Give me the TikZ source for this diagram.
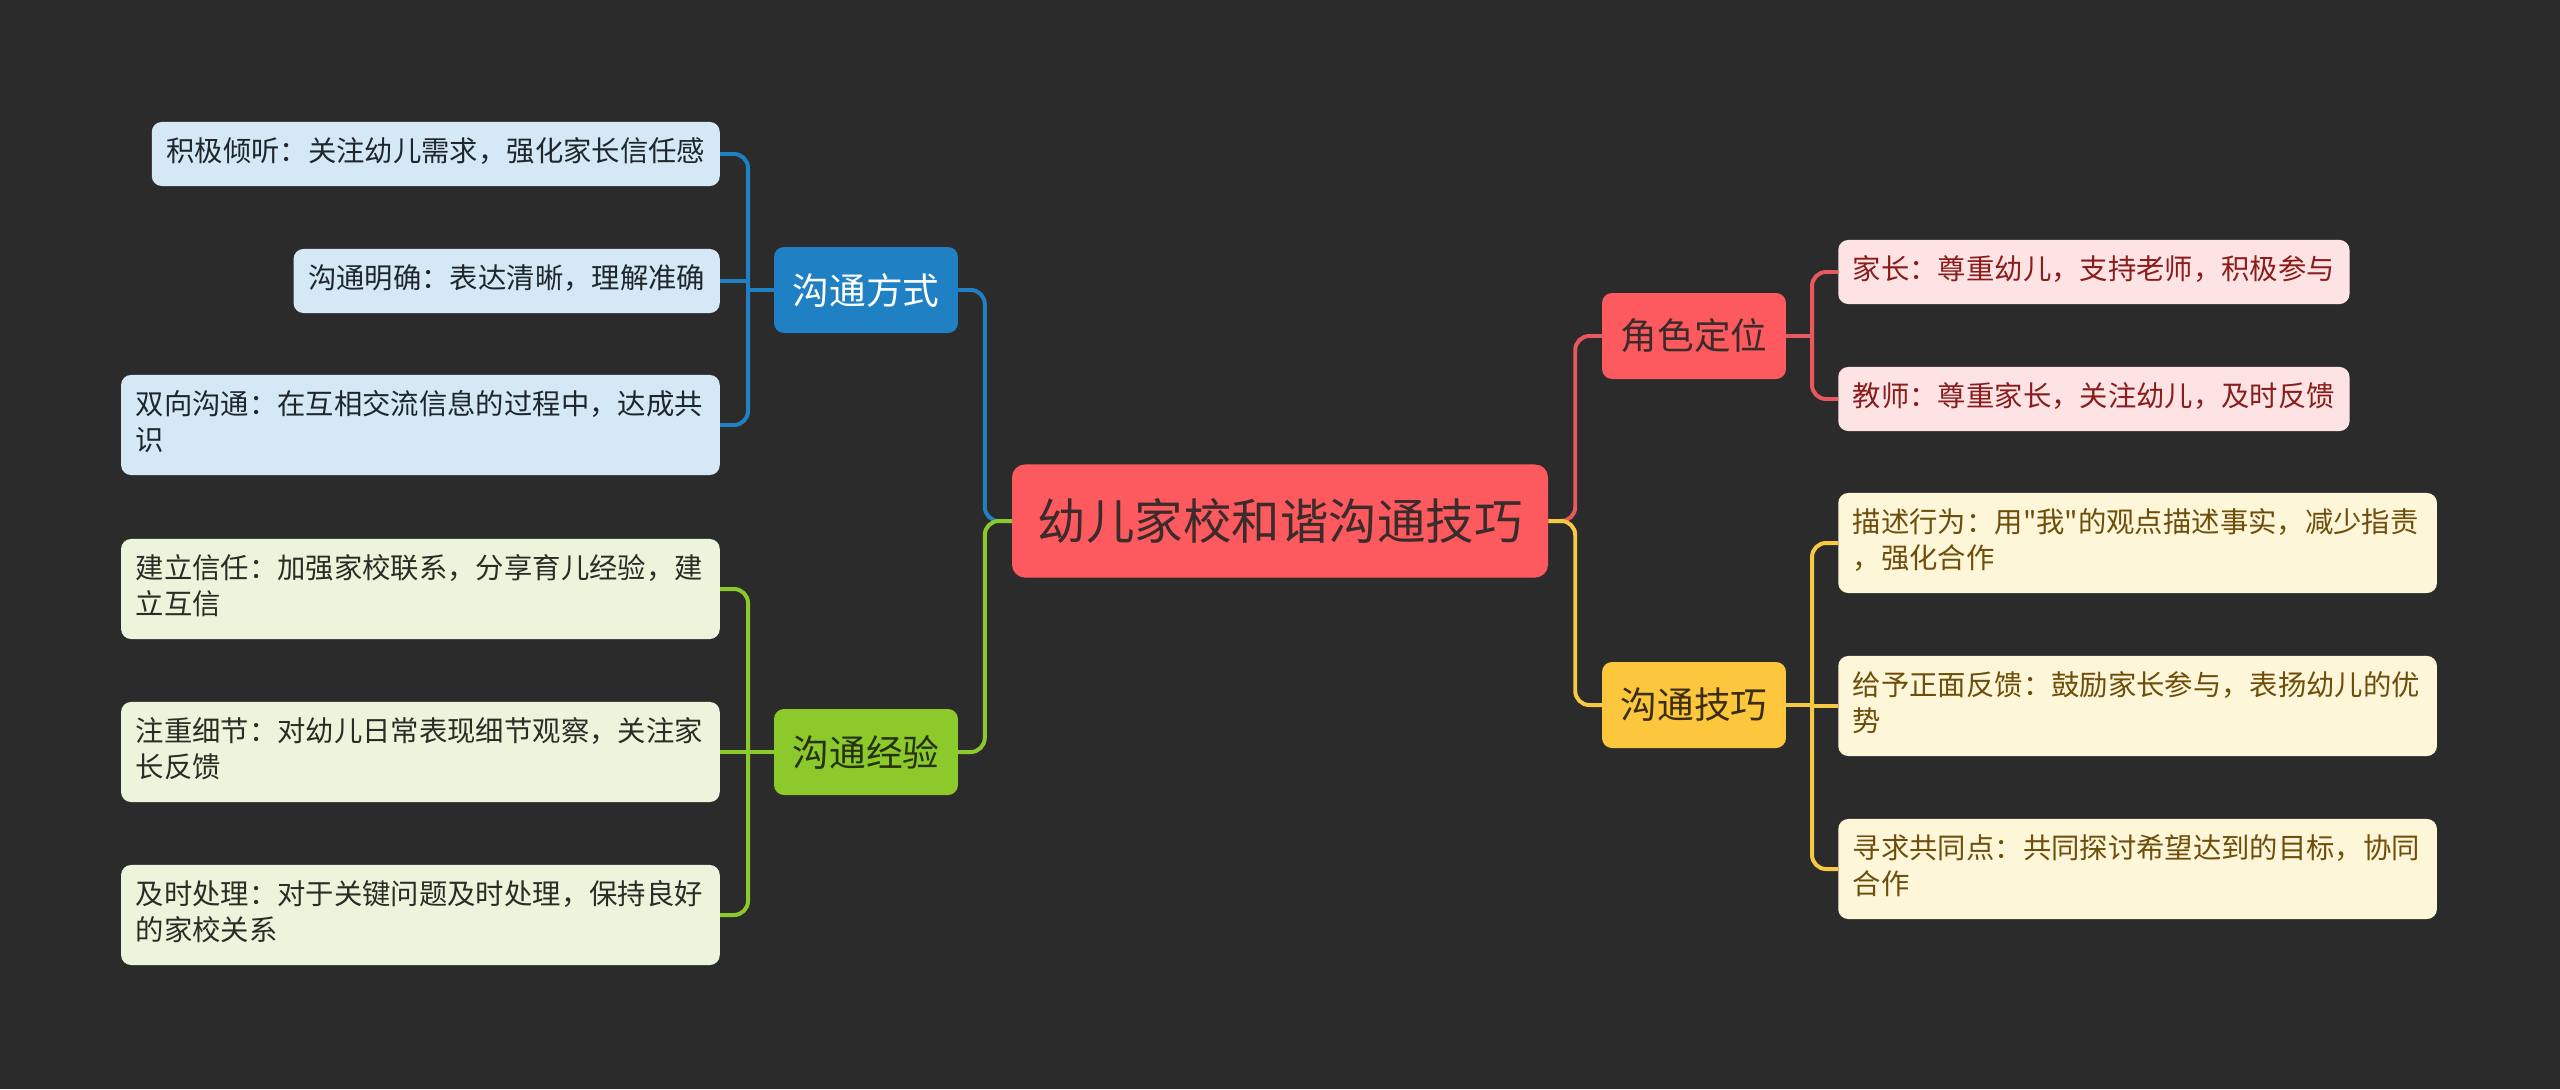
\documentclass[tikz,border=0pt]{standalone}
\usepackage{fontspec}
\newfontfamily\cjk{Noto Sans CJK SC}
\definecolor{bgc}{HTML}{2B2B2B}
\definecolor{rootf}{HTML}{FD5A5F}
\definecolor{roott}{HTML}{3C2B2B}
\definecolor{bluem}{HTML}{1F80C4}
\definecolor{bluel}{HTML}{D4E8F5}
\definecolor{bluet}{HTML}{1F262C}
\definecolor{greenm}{HTML}{8CC92A}
\definecolor{greenl}{HTML}{EAF5DC}
\definecolor{greent}{HTML}{26320F}
\definecolor{greenlt}{HTML}{2A2C26}
\definecolor{redc}{HTML}{E8585C}
\definecolor{redl}{HTML}{FDE3E3}
\definecolor{redt}{HTML}{8A1C1C}
\definecolor{yellowm}{HTML}{FCC73D}
\definecolor{yellowc}{HTML}{F7C843}
\definecolor{yellowl}{HTML}{FDF6D9}
\definecolor{yellowt}{HTML}{3B2E0E}
\definecolor{yellowlt}{HTML}{6E4E0A}
\begin{document}
\begin{tikzpicture}[x=0.03cm,y=-0.03cm,
  conn/.style={line width=3.4pt, rounded corners=12pt},
  leaf/.style={rounded corners=8.5pt, inner xsep=12.5pt, inner ysep=12pt, align=left,
    font=\cjk\fontsize{24.2pt}{30.7pt}\selectfont},
  wide/.style={text width=486pt},
  mid/.style={rounded corners=8.5pt, minimum width=157pt, minimum height=73.4pt, inner sep=0pt,
    font=\cjk\fontsize{31.3pt}{36pt}\selectfont},
  rootbox/.style={rounded corners=11pt, minimum width=457.5pt, minimum height=96.5pt, inner sep=0pt,
    font=\cjk\fontsize{41.4pt}{48pt}\selectfont, fill=rootf, text=roott},
  bleaf/.style={leaf, fill=bluel, text=bluet, anchor=east},
  gleaf/.style={leaf, fill=greenl, text=greenlt, anchor=east},
  rleaf/.style={leaf, fill=redl, text=redt, anchor=west},
  yleaf/.style={leaf, fill=yellowl, text=yellowlt, anchor=west}
]
\fill[bgc] (0,0) rectangle (2560,1089);
\useasboundingbox (0,0) rectangle (2560,1089);

% nodes
\node[rootbox] (root) at (1280,521) {幼儿家校和谐沟通技巧};
\node[mid, fill=bluem, text=white] (bm) at (866,290) {沟通方式};
\node[mid, fill=greenm, text=greent] (gm) at (866,752) {沟通经验};
\node[mid, fill=rootf, text=roott] (rm) at (1694,336) {角色定位};
\node[mid, fill=yellowm, text=yellowt] (ym) at (1694,705) {沟通技巧};

\node[bleaf] (b1) at (720,154) {\strut 积极倾听：关注幼儿需求，强化家长信任感};
\node[bleaf] (b2) at (720,281) {\strut 沟通明确：表达清晰，理解准确};
\node[bleaf, wide] (b3) at (720,425) {\strut 双向沟通：在互相交流信息的过程中，达成共\\\strut 识};

\node[gleaf, wide] (g1) at (720,589) {\strut 建立信任：加强家校联系，分享育儿经验，建\\\strut 立互信};
\node[gleaf, wide] (g2) at (720,752) {\strut 注重细节：对幼儿日常表现细节观察，关注家\\\strut 长反馈};
\node[gleaf, wide] (g3) at (720,915) {\strut 及时处理：对于关键问题及时处理，保持良好\\\strut 的家校关系};

\node[rleaf] (r1) at (1838,272) {\strut 家长：尊重幼儿，支持老师，积极参与};
\node[rleaf] (r2) at (1838,399) {\strut 教师：尊重家长，关注幼儿，及时反馈};

\node[yleaf, wide] (y1) at (1838,543) {\strut 描述行为：用"我"的观点描述事实，减少指责\\\strut ，强化合作};
\node[yleaf, wide] (y2) at (1838,706) {\strut 给予正面反馈：鼓励家长参与，表扬幼儿的优\\\strut 势};
\node[yleaf, wide] (y3) at (1838,869) {\strut 寻求共同点：共同探讨希望达到的目标，协同\\\strut 合作};

% junction coordinates
\coordinate (bj) at (748,290);
\coordinate (gj) at (748,752);
\coordinate (rj) at (1812,336);
\coordinate (yj) at (1812,705);

% root connectors
\draw[conn, draw=bluem] (root.west) -- ++(-27,0) |- (bm.east);
\draw[conn, draw=greenm] (root.west) -- ++(-27,0) |- (gm.east);
\draw[conn, draw=redc] (root.east) -- ++(27,0) |- (rm.west);
\draw[conn, draw=yellowc] (root.east) -- ++(27,0) |- (ym.west);

% blue
\draw[conn, draw=bluem] (b1.east) -| (bj) |- (b3.east);
\draw[conn, draw=bluem] (b2.east) -- (b2.east -| bj);
\draw[conn, draw=bluem] (bm.west) -- (bj);
% green
\draw[conn, draw=greenm] (g1.east) -| (gj) |- (g3.east);
\draw[conn, draw=greenm] (g2.east) -- (gj);
\draw[conn, draw=greenm] (gm.west) -- (gj);
% red
\draw[conn, draw=redc] (r1.west) -| (rj) |- (r2.west);
\draw[conn, draw=redc] (rm.east) -- (rj);
% yellow
\draw[conn, draw=yellowc] (y1.west) -| (yj) |- (y3.west);
\draw[conn, draw=yellowc] (y2.west) -- (y2.west -| yj);
\draw[conn, draw=yellowc] (ym.east) -- (yj);
\end{tikzpicture}
\end{document}
